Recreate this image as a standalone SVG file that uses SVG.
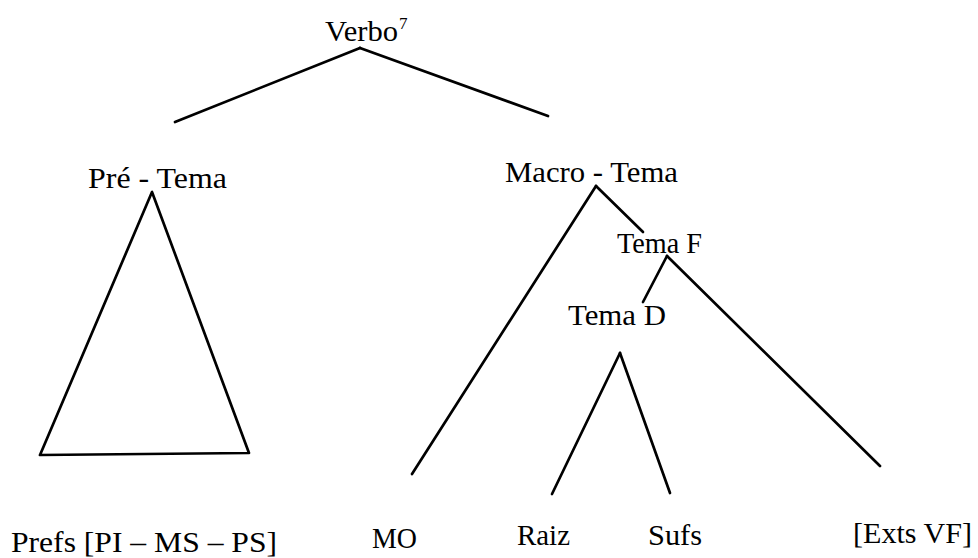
<svg xmlns="http://www.w3.org/2000/svg" width="978" height="558" viewBox="0 0 978 558">
<style>
text{font-family:"Liberation Serif","Times New Roman",serif;font-size:29px;fill:#000}
.sup{font-size:17px}
line,polygon{stroke:#000;stroke-width:2.7;fill:none;stroke-linecap:round;stroke-linejoin:round}
</style>
<rect width="978" height="558" fill="#fff"/>
<g id="connectors">
<line x1="360" y1="48" x2="175" y2="122"/>
<line x1="360" y1="48" x2="548" y2="116"/>
<line x1="596" y1="186" x2="412" y2="474"/>
<line x1="596" y1="186" x2="643" y2="232"/>
<line x1="667" y1="256" x2="643" y2="302"/>
<line x1="667" y1="256" x2="880" y2="466"/>
<line x1="620" y1="353" x2="552" y2="494"/>
<line x1="620" y1="353" x2="670" y2="493"/>
</g>
<g id="verbo"><text x="325" y="41" textLength="73" lengthAdjust="spacingAndGlyphs">Verbo</text><text class="sup" x="399" y="29">7</text></g>
<g id="pre-tema"><text x="88" y="188" textLength="139" lengthAdjust="spacingAndGlyphs">Pré - Tema</text><polygon points="152,192 40,455 249,453"/></g>
<g id="macro-tema"><text x="505" y="182" textLength="173" lengthAdjust="spacingAndGlyphs">Macro - Tema</text></g>
<g id="tema-f"><text x="617" y="253" textLength="85" lengthAdjust="spacingAndGlyphs">Tema F</text></g>
<g id="tema-d"><text x="568" y="325" textLength="98" lengthAdjust="spacingAndGlyphs">Tema D</text></g>
<g id="prefs"><text x="11" y="552" textLength="266" lengthAdjust="spacingAndGlyphs">Prefs [PI – MS – PS]</text></g>
<g id="mo"><text x="372" y="548" textLength="45" lengthAdjust="spacingAndGlyphs">MO</text></g>
<g id="raiz"><text x="517" y="545" textLength="53" lengthAdjust="spacingAndGlyphs">Raiz</text></g>
<g id="sufs"><text x="648" y="545" textLength="54" lengthAdjust="spacingAndGlyphs">Sufs</text></g>
<g id="exts-vf"><text x="853" y="543" textLength="119" lengthAdjust="spacingAndGlyphs">[Exts VF]</text></g>
</svg>
